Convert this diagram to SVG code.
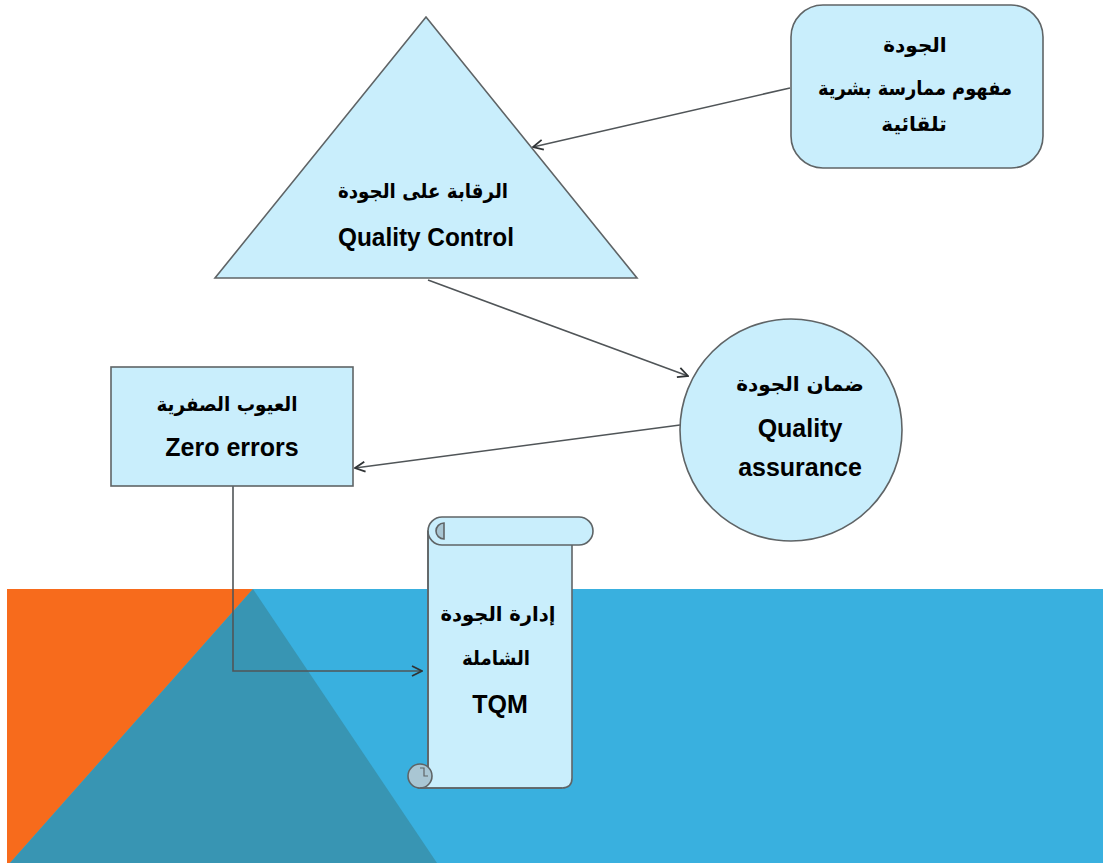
<svg xmlns="http://www.w3.org/2000/svg" width="1103" height="863" viewBox="0 0 1103 863">
  <style>
    .shape { fill: #c9eefc; stroke: #5f6466; stroke-width: 1.6; }
    .curl { fill: #a9c6d3; stroke: #5f6466; stroke-width: 1.6; }
    .conn { fill: none; stroke: #505558; stroke-width: 1.6; }
    .label { font-family: "Liberation Sans", "DejaVu Sans", sans-serif; font-weight: bold; font-size: 25px; fill: #000; text-anchor: middle; }
    .ar { font-family: "DejaVu Sans", "Liberation Sans", sans-serif; font-weight: bold; font-size: 20px; fill: #000; text-anchor: middle; }
  </style>
  <defs>
    <marker id="chev" viewBox="0 0 12 12" refX="11" refY="6" markerWidth="12" markerHeight="12" markerUnits="userSpaceOnUse" orient="auto">
      <path d="M1,1 L11,6 L1,11" fill="none" stroke="#303436" stroke-width="1.8"/>
    </marker>
  </defs>

  <!-- backdrop -->
  <rect x="0" y="0" width="1103" height="863" fill="#ffffff"/>
  <g id="backdrop">
    <rect x="7" y="589" width="1096" height="274" fill="#39b0df"/>
    <polygon points="7,589 253,589 10,863 7,863" fill="#f76b1c"/>
    <polygon points="253,589 437,863 10,863" fill="#3895b3"/>
  </g>

  <!-- connectors -->
  <g id="connectors">
    <line class="conn" x1="790" y1="88" x2="533" y2="147" marker-end="url(#chev)"/>
    <line class="conn" x1="428" y1="280" x2="688" y2="376" marker-end="url(#chev)"/>
    <line class="conn" x1="680" y1="425" x2="355" y2="468" marker-end="url(#chev)"/>
    <polyline class="conn" points="233,486 233,671 422,671" stroke="#2e3436" marker-end="url(#chev)"/>
  </g>

  <!-- concept box -->
  <g id="node-concept">
    <rect class="shape" x="791" y="5" width="252" height="163" rx="32" ry="32"/>
    <text class="ar" x="915" y="52">الجودة</text>
    <text class="ar" x="915" y="95" textLength="194" lengthAdjust="spacingAndGlyphs">مفهوم ممارسة بشرية</text>
    <text class="ar" x="914" y="131">تلقائية</text>
  </g>

  <!-- quality control triangle -->
  <g id="node-control">
    <polygon class="shape" points="426,17 637,278 215,278"/>
    <text class="ar" x="423" y="198" textLength="170" lengthAdjust="spacingAndGlyphs">الرقابة على الجودة</text>
    <text class="label" x="426" y="246" textLength="176" lengthAdjust="spacingAndGlyphs">Quality Control</text>
  </g>

  <!-- quality assurance circle -->
  <g id="node-assurance">
    <circle class="shape" cx="791" cy="430" r="111"/>
    <text class="ar" x="800" y="391">ضمان الجودة</text>
    <text class="label" x="800" y="437">Quality</text>
    <text class="label" x="800" y="476">assurance</text>
  </g>

  <!-- zero errors box -->
  <g id="node-zero">
    <rect class="shape" x="111" y="367" width="242" height="119"/>
    <text class="ar" x="227" y="411" textLength="141" lengthAdjust="spacingAndGlyphs">العيوب الصفرية</text>
    <text class="label" x="232" y="456">Zero errors</text>
  </g>

  <!-- TQM scroll -->
  <g id="node-tqm">
    <path class="shape" d="M428,531 L572,531 L572,778 Q572,788 562,788 L419,788 L428,776 Z"/>
    <rect class="shape" x="428" y="517" width="165" height="28" rx="14" ry="14"/>
    <path class="curl" d="M444,523 A8,8 0 1 0 444,539 L444,531 Z"/>
    <path class="shape" d="M428,531 L428,776"/>
    <circle class="curl" cx="420" cy="776" r="12"/>
    <path d="M420,768 L424,768 L424,776 L428,776" fill="none" stroke="#5f6466" stroke-width="1.2"/>
    <line x1="420" y1="788" x2="562" y2="788" stroke="#5f6466" stroke-width="1.6"/>
    <text class="ar" x="498" y="621" textLength="115" lengthAdjust="spacingAndGlyphs">إدارة الجودة</text>
    <text class="ar" x="496" y="665" textLength="68" lengthAdjust="spacingAndGlyphs">الشاملة</text>
    <text class="label" x="500" y="713">TQM</text>
  </g>
</svg>
